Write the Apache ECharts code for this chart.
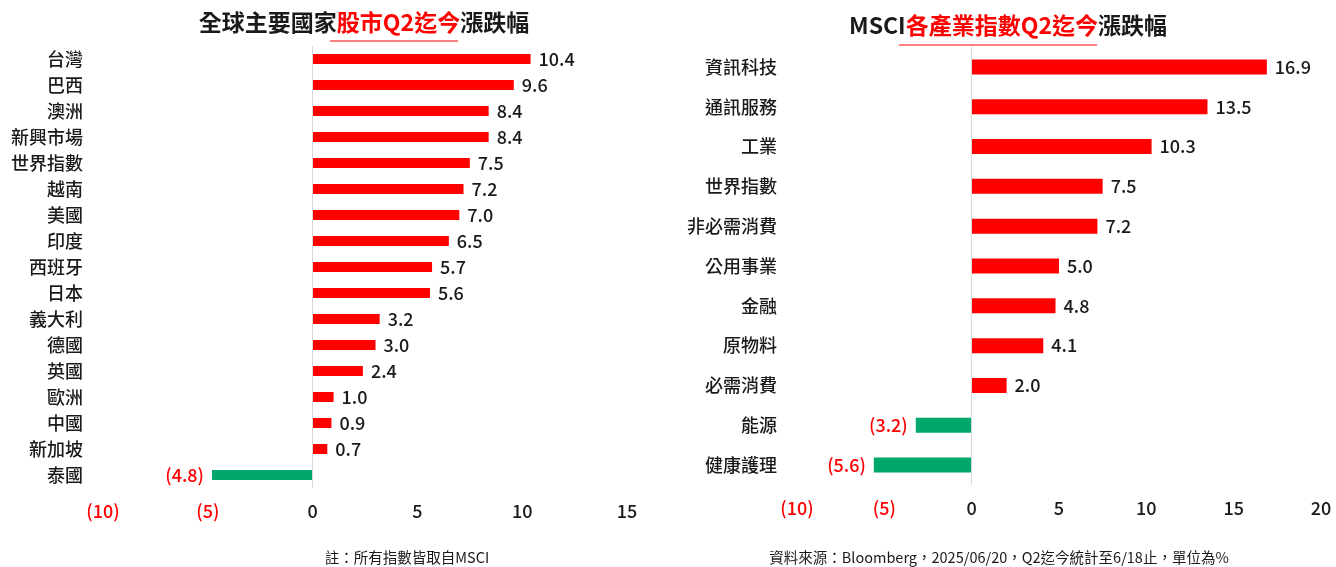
<!DOCTYPE html>
<html>
<head>
<meta charset="utf-8">
<script src="https://cdn.jsdelivr.net/npm/echarts@6/dist/echarts.min.js"></script>
<style>
html,body{margin:0;padding:0;background:#fff;}
#main{width:1336px;height:567px;}
</style>
</head>
<body>
<div id="main"></div>
<script>
// 左圖：各國股市
var countries = ['台灣','巴西','澳洲','新興市場','世界指數','越南','美國','印度','西班牙','日本','義大利','德國','英國','歐洲','中國','新加坡','泰國'];
var countryVals = [10.4, 9.6, 8.4, 8.4, 7.5, 7.2, 7.0, 6.5, 5.7, 5.6, 3.2, 3.0, 2.4, 1.0, 0.9, 0.7, -4.8];
// 右圖：MSCI產業
var sectors = ['資訊科技','通訊服務','工業','世界指數','非必需消費','公用事業','金融','原物料','必需消費','能源','健康護理'];
var sectorVals = [16.9, 13.5, 10.3, 7.5, 7.2, 5.0, 4.8, 4.1, 2.0, -3.2, -5.6];

var UP = '#ff0000', DOWN = '#00a86b';
var FONT = '"Noto Sans CJK TC","Noto Sans",sans-serif';

function fmtVal(v){
	return v < 0 ? '(' + Math.abs(v).toFixed(1) + ')' : v.toFixed(1);
}
function buildData(vals){
	return vals.map(function(v){
		return {
			value: v,
			itemStyle: {color: v < 0 ? DOWN : UP},
			label: {position: v < 0 ? 'left' : 'right', color: v < 0 ? '#ff0000' : '#1a1a1a'}
		};
	});
}
function axisFmt(v){
	return v < 0 ? '{neg|(' + Math.abs(v) + ')}' : '{pos|' + v + '}';
}
var axisRich = {
	neg: {color: '#ff0000', fontSize: 18, fontWeight: 500, fontFamily: FONT},
	pos: {color: '#1a1a1a', fontSize: 18, fontWeight: 500, fontFamily: FONT}
};
function xAxisCfg(idx, max){
	return {
		gridIndex: idx, type: 'value', min: -10, max: max, interval: 5,
		splitLine: {show: false}, axisLine: {show: false}, axisTick: {show: false},
		axisLabel: {formatter: axisFmt, rich: axisRich, margin: 14}
	};
}
function yAxisCfg(idx, cats){
	return {
		gridIndex: idx, type: 'category', data: cats, inverse: true,
		axisLine: {show: false}, axisTick: {show: false},
		axisLabel: {color: '#1a1a1a', fontSize: 18, fontWeight: 500, fontFamily: FONT, margin: 20}
	};
}
function seriesCfg(idx, vals, bw){
	return {
		type: 'bar', xAxisIndex: idx, yAxisIndex: idx, barWidth: bw,
		data: buildData(vals),
		label: {show: true, fontSize: 18, fontWeight: 500, fontFamily: FONT, distance: 8,
			formatter: function(p){ return fmtVal(p.value); }},
		markLine: {
			silent: true, symbol: 'none', label: {show: false},
			lineStyle: {color: '#d9d9d9', type: 'solid', width: 1},
			data: [{xAxis: 0}]
		}
	};
}
var titleRich = {
	a: {color: '#1a1a1a', fontSize: 23, fontWeight: 'bold', fontFamily: FONT},
	b: {color: '#ff0000', fontSize: 23, fontWeight: 'bold', fontFamily: FONT}
};

var option = {
	animation: false,
	title: [
		{text: '{a|全球主要國家}{b|股市Q2迄今}{a|漲跌幅}', left: 359, top: 6, textAlign: 'center', textStyle: {rich: titleRich}},
		{text: '{a|MSCI}{b|各產業指數Q2迄今}{a|漲跌幅}', left: 1003, top: 9, textAlign: 'center', textStyle: {rich: titleRich}},
		{text: '註：所有指數皆取自MSCI', left: 402, top: 545, textAlign: 'center',
			textStyle: {color: '#1a1a1a', fontSize: 14.5, fontWeight: 'normal', fontFamily: FONT}},
		{text: '資料來源：Bloomberg，2025/06/20，Q2迄今統計至6/18止，單位為%', left: 994, top: 545, textAlign: 'center',
			textStyle: {color: '#1a1a1a', fontSize: 14.5, fontWeight: 'normal', fontFamily: FONT}}
	],
	graphic: [
		{type: 'line', shape: {x1: 330, y1: 41, x2: 458, y2: 41}, style: {stroke: '#ff0000', lineWidth: 1}},
		{type: 'line', shape: {x1: 899, y1: 45, x2: 1097, y2: 45}, style: {stroke: '#ff0000', lineWidth: 1}}
	],
	grid: [
		{left: 103, width: 524, top: 46, height: 442},
		{left: 797, width: 524, top: 47, height: 438}
	],
	xAxis: [xAxisCfg(0, 15), xAxisCfg(1, 20)],
	yAxis: [yAxisCfg(0, countries), yAxisCfg(1, sectors)],
	series: [seriesCfg(0, countryVals, 10), seriesCfg(1, sectorVals, 15)]
};

var chart = echarts.init(document.getElementById('main'));
chart.setOption(option);
</script>
</body>
</html>
